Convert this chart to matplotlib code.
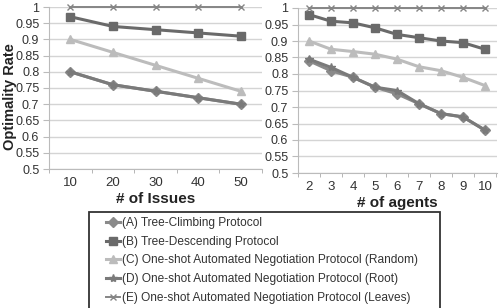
import matplotlib
matplotlib.use('Agg')
import matplotlib.pyplot as plt
from matplotlib.lines import Line2D
from matplotlib.patches import Rectangle

plt.rcParams['font.family'] = ['Liberation Sans', 'DejaVu Sans']

issues = [10, 20, 30, 40, 50]
agents = [2, 3, 4, 5, 6, 7, 8, 9, 10]

names = ['(A) Tree-Climbing Protocol',
         '(B) Tree-Descending Protocol',
         '(C) One-shot Automated Negotiation Protocol (Random)',
         '(D) One-shot Automated Negotiation Protocol (Root)',
         '(E) One-shot Automated Negotiation Protocol (Leaves)']

# left panel: # of issues
issues_a = [0.80, 0.76, 0.74, 0.72, 0.70]
issues_b = [0.97, 0.94, 0.93, 0.92, 0.91]
issues_c = [0.90, 0.86, 0.82, 0.78, 0.74]
issues_d = [0.80, 0.76, 0.74, 0.72, 0.70]
issues_e = [1.0, 1.0, 1.0, 1.0, 1.0]

# right panel: # of agents
agents_a = [0.84, 0.81, 0.79, 0.76, 0.74, 0.71, 0.68, 0.67, 0.63]
agents_b = [0.98, 0.96, 0.955, 0.94, 0.92, 0.91, 0.90, 0.895, 0.875]
agents_c = [0.90, 0.875, 0.868, 0.86, 0.845, 0.822, 0.81, 0.79, 0.765]
agents_d = [0.845, 0.82, 0.79, 0.76, 0.75, 0.71, 0.68, 0.67, 0.63]
agents_e = [1.0] * 9

styles = [
    dict(color='#8a8a8a', marker='D', markersize=5, lw=2.2),
    dict(color='#6a6a6a', marker='s', markersize=6, lw=2.2),
    dict(color='#bcbcbc', marker='^', markersize=6, lw=2.2),
    dict(color='#7a7a7a', marker='*', markersize=6, lw=2.2),
    dict(color='#858585', marker='x', markersize=5, lw=1.4, mew=1.0),
]

fig = plt.figure(figsize=(4.99, 3.08), dpi=100)
ax1 = fig.add_axes([49 / 499, 1 - 169 / 308, 213 / 499, 162 / 308])
ax2 = fig.add_axes([298 / 499, 1 - 173 / 308, 199 / 499, 165 / 308])


def draw(ax, cats, series, xlabel, xmax):
    pos = list(range(len(cats)))
    for vals, st in zip(series, styles):
        ax.plot(pos, vals, clip_on=False, **st)
    ax.set_ylim(0.5, 1.0)
    ax.set_xlim(-0.5, xmax)
    ax.set_yticks([0.5 + 0.05 * i for i in range(11)])
    ax.set_yticklabels(['0.5', '0.55', '0.6', '0.65', '0.7', '0.75', '0.8',
                        '0.85', '0.9', '0.95', '1'])
    ax.set_xticks(pos)
    ax.set_xticklabels([str(c) for c in cats])
    ax.set_xticks([p - 0.5 for p in pos] + [pos[-1] + 0.5], minor=True)
    ax.tick_params(axis='x', which='major', length=0, pad=6, labelsize=9.5,
                   colors='#333333')
    ax.tick_params(axis='x', which='minor', length=3, color='#aaaaaa')
    ax.tick_params(axis='y', length=4, color='#bbbbbb', labelsize=9,
                   labelcolor='#333333', pad=3)
    ax.grid(axis='y', color='#d4d4d4', lw=1)
    ax.set_axisbelow(True)
    for s in ['top', 'right']:
        ax.spines[s].set_visible(False)
    ax.spines['left'].set_color('#bbbbbb')
    ax.spines['bottom'].set_color('#bbbbbb')
    ax.set_xlabel(xlabel, fontsize=11, fontweight='bold', color='#222222',
                  labelpad=2)


draw(ax1, issues, [issues_a, issues_b, issues_c, issues_d, issues_e],
     '# of Issues', 4.45)
draw(ax2, agents, [agents_a, agents_b, agents_c, agents_d, agents_e],
     '# of agents', 8.55)
fig.text(10 / 499, 1 - 97 / 308, 'Optimality Rate', rotation=90,
         ha='center', va='center', fontsize=10.5, fontweight='bold',
         color='#222222')

# legend frame drawn by hand so the left padding matches
fig.patches.append(Rectangle((89 / 499, 1 - 312 / 308), 351 / 499, 100 / 308,
                             transform=fig.transFigure, fill=False,
                             edgecolor='#333333', lw=1.3))

# size the legend font so the longest label is ~298 px wide, like the reference
renderer = fig.canvas.get_renderer()
probe = fig.text(0, 0, names[2], fontsize=10)
w = probe.get_window_extent(renderer).width
probe.remove()
leg_fs = 10 * 298 / w

handles = [Line2D([], [], **st) for st in styles]
leg = fig.legend(handles, names, loc='upper left',
                 bbox_to_anchor=(106 / 499, 1 - 217 / 308),
                 frameon=False, fontsize=leg_fs,
                 handlelength=1.2, handletextpad=0.15,
                 labelspacing=(19 * 72 / 100) / leg_fs - 1.03,
                 borderpad=0, borderaxespad=0)
for t in leg.get_texts():
    t.set_color('#333333')

fig.savefig('out.png', dpi=100)
